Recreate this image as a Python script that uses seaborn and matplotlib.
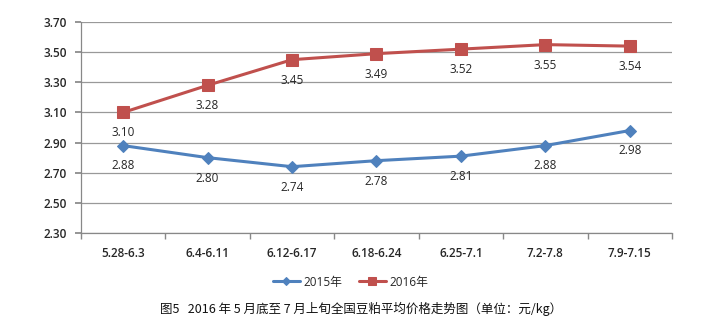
import matplotlib
matplotlib.use("Agg")
import matplotlib.pyplot as plt
import seaborn as sns
import pandas as pd

categories = ["5.28-6.3", "6.4-6.11", "6.12-6.17", "6.18-6.24", "6.25-7.1", "7.2-7.8", "7.9-7.15"]
values_2015 = [2.88, 2.80, 2.74, 2.78, 2.81, 2.88, 2.98]
values_2016 = [3.10, 3.28, 3.45, 3.49, 3.52, 3.55, 3.54]
series_names = ["2015年", "2016年"]
yticks = [2.30, 2.50, 2.70, 2.90, 3.10, 3.30, 3.50, 3.70]
caption = "图5   2016 年 5 月底至 7 月上旬全国豆粕平均价格走势图（单位：元/kg）"

sns.set_theme(style="white")
plt.rcParams['font.family'] = ['Noto Sans CJK SC', 'DejaVu Sans']

df = pd.DataFrame({
    "period": categories * 2,
    "x": list(range(len(categories))) * 2,
    "price": values_2015 + values_2016,
    "series": [series_names[0]] * len(categories) + [series_names[1]] * len(categories),
})

colors = {series_names[0]: "#4F81BD", series_names[1]: "#C0504D"}
markers = {series_names[0]: "D", series_names[1]: "s"}
sizes = {series_names[0]: 6, series_names[1]: 8}

fig = plt.figure(figsize=(7.21, 3.28), dpi=100)
ax = fig.add_axes([0.1123, 0.2896, 0.8197, 0.6433])

for name in series_names:
    sub = df[df["series"] == name]
    sns.lineplot(data=sub, x="x", y="price", ax=ax, color=colors[name], linewidth=2.2,
                 marker=markers[name], markersize=sizes[name], markeredgecolor=colors[name],
                 label=name, legend=False)
    for xi, v in zip(sub["x"], sub["price"]):
        ax.annotate(f"{v:.2f}", (xi, v), xytext=(0, -10), textcoords="offset points",
                    ha="center", va="top", fontsize=8.5, color="#262626",
                    family=['Open Sans', 'DejaVu Sans'])

ax.set_xlim(-0.5, len(categories) - 0.5)
ax.set_ylim(2.30, 3.70)
ax.set_yticks(yticks)
ax.set_yticklabels([f"{t:.2f}" for t in yticks], fontsize=8.5, color="#262626",
                   family=['Open Sans', 'DejaVu Sans'], fontweight="semibold")
ax.set_xticks(range(len(categories)))
ax.set_xticklabels(categories, fontsize=8.5, color="#262626",
                   family=['Open Sans', 'DejaVu Sans'], fontweight="semibold")
ax.set_xticks([i - 0.5 for i in range(len(categories) + 1)], minor=True)
ax.tick_params(axis="x", which="major", length=0, pad=10)
ax.tick_params(axis="x", which="minor", length=4, color="#888888", direction="out", bottom=True)
ax.tick_params(axis="y", length=4, color="#888888", direction="out", left=True, pad=6)
ax.grid(axis="y", color="#999999", linewidth=0.9)
ax.set_axisbelow(True)
for side in ["top", "right"]:
    ax.spines[side].set_visible(False)
for side in ["left", "bottom"]:
    ax.spines[side].set_color("#888888")
    ax.spines[side].set_linewidth(0.9)
ax.set_xlabel("")
ax.set_ylabel("")

handles, labels = ax.get_legend_handles_labels()
fig.legend(handles, labels, loc="center", bbox_to_anchor=(0.486, 0.14), ncol=2, frameon=False,
           handlelength=2.3, columnspacing=1.4, handletextpad=0.3, markerscale=0.75,
           prop={'family': ['Open Sans', 'Noto Sans CJK SC'], 'size': 8.5})

fig.text(0.222, 0.058, caption, fontsize=9, color="#111111", ha="left", va="center")

fig.savefig("out.png", dpi=100)
